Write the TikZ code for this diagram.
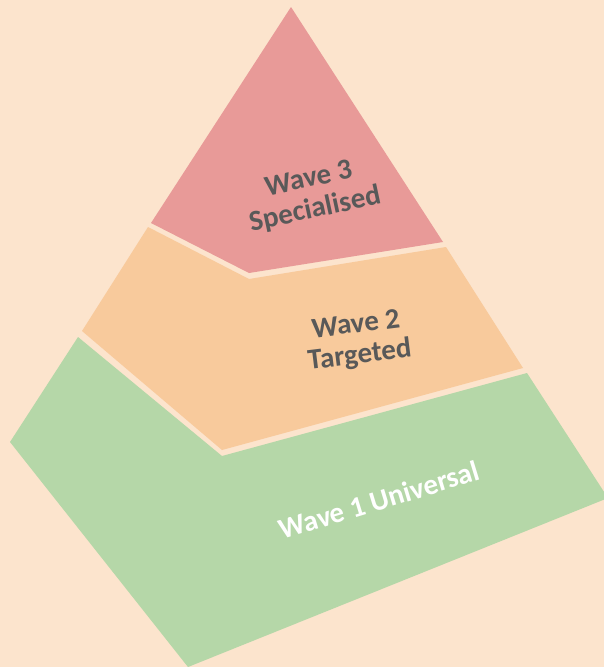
\documentclass[tikz,border=0pt]{standalone}
\usepackage{fontspec}
\setmainfont{Carlito}
\definecolor{bgpeach}{HTML}{FCE4CD}
\definecolor{wavered}{HTML}{E89A98}
\definecolor{waveorange}{HTML}{F8CA9C}
\definecolor{wavegreen}{HTML}{B5D7A8}
\definecolor{wavetext}{HTML}{595959}
\tikzset{
  wavelabel/.style={font=\bfseries\fontsize{29}{31}\selectfont, align=center, text=wavetext}
}
\begin{document}
\begin{tikzpicture}[x=1pt,y=-1pt]
		\useasboundingbox (0,0) rectangle (604,667);
		\fill[bgpeach] (0,0) rectangle (604,667);
		% wave 3
		\fill[wavered] (291,7) -- (443,242) -- (249,273) -- (151,223) -- cycle;
		% wave 2
		\fill[waveorange] (148,227) -- (249,279) -- (446,247) -- (523,368) -- (222,450) -- (82,331) -- cycle;
		% wave 1
		\fill[wavegreen] (78,337) -- (222,456) -- (527,373) -- (608,498) -- (188,667) -- (10,442) -- cycle;
		\node[wavelabel, rotate=12] (wave3) at (312,195) {Wave 3\\Specialised};
		\node[wavelabel, rotate=7] (wave2) at (358,341) {Wave 2\\Targeted};
		\node[wavelabel, rotate=17, text=white] (wave1) at (379,500) {Wave 1 Universal};
\end{tikzpicture}
\end{document}
